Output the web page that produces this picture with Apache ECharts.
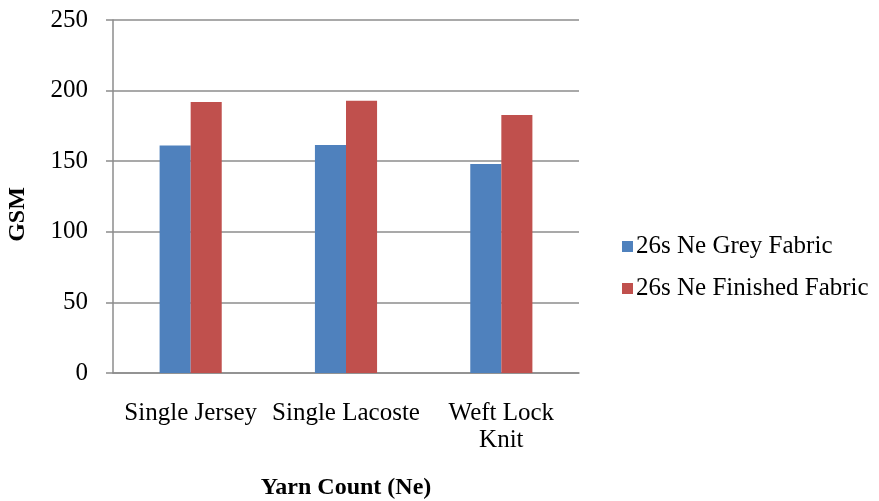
<!DOCTYPE html>
<html><head><meta charset="utf-8">
<script src="https://cdn.jsdelivr.net/npm/echarts@6/dist/echarts.min.js"></script>
<style>html,body{margin:0;padding:0;background:#fff}#c{width:879px;height:501px}</style>
</head><body><div id="c"></div>
<script>
const categories = ['Single Jersey', 'Single Lacoste', 'Weft Lock\nKnit'];
const greyFabric = [161.2, 161.4, 148.1];
const finishedFabric = [191.9, 192.8, 182.7];
const seriesNames = ['26s Ne Grey Fabric', '26s Ne Finished Fabric'];
const yTicks = [0, 50, 100, 150, 200, 250];

const font = '"Liberation Serif", "Times New Roman", serif';
const chart = echarts.init(document.getElementById('c'));
chart.setOption({
  animation: false,
  backgroundColor: '#fff',
  grid: { left: 113, right: 300, top: 20, bottom: 128, containLabel: false, outerBoundsMode: 'none' },
  legend: {
    orient: 'vertical', left: 617, top: 229, itemWidth: 11, itemHeight: 11, itemGap: 17,
    icon: 'rect',
    textStyle: { fontFamily: font, fontSize: 25, color: '#000', padding: [0,0,0,-2] },
    data: seriesNames
  },
  xAxis: {
    type: 'category', data: categories,
    axisLine: { lineStyle: { color: '#8c8c8c', width: 1.5 } },
    axisTick: { show: false },
    axisLabel: { fontFamily: font, fontSize: 25, color: '#000', margin: 27, lineHeight: 27, interval: 0 },
    name: 'Yarn Count (Ne)', nameLocation: 'middle', nameGap: 103,
    nameTextStyle: { fontFamily: font, fontSize: 24, fontWeight: 'bold', color: '#000' }
  },
  yAxis: {
    type: 'value', min: 0, max: 250, interval: 50,
    axisLine: { show: true, lineStyle: { color: '#8c8c8c', width: 1.5 } },
    axisTick: { show: true, length: 7, lineStyle: { color: '#8c8c8c', width: 1.5 } },
    splitLine: { lineStyle: { color: '#8c8c8c', width: 1.5 } },
    axisLabel: { fontFamily: font, fontSize: 25, color: '#000', margin: 25,
      formatter: v => yTicks.includes(v) ? String(v) : '' },
    name: 'GSM', nameLocation: 'middle', nameGap: 83, nameRotate: 90,
    nameTextStyle: { fontFamily: font, fontSize: 24, fontWeight: 'bold', color: '#000', padding: [0, 36, 0, 0] }
  },
  series: [
    { name: seriesNames[0], type: 'bar', data: greyFabric, barGap: '0%', barCategoryGap: '60%',
      itemStyle: { color: '#4F81BD' } },
    { name: seriesNames[1], type: 'bar', data: finishedFabric, barGap: '0%', barCategoryGap: '60%',
      itemStyle: { color: '#C0504D' } }
  ]
});
</script></body></html>
